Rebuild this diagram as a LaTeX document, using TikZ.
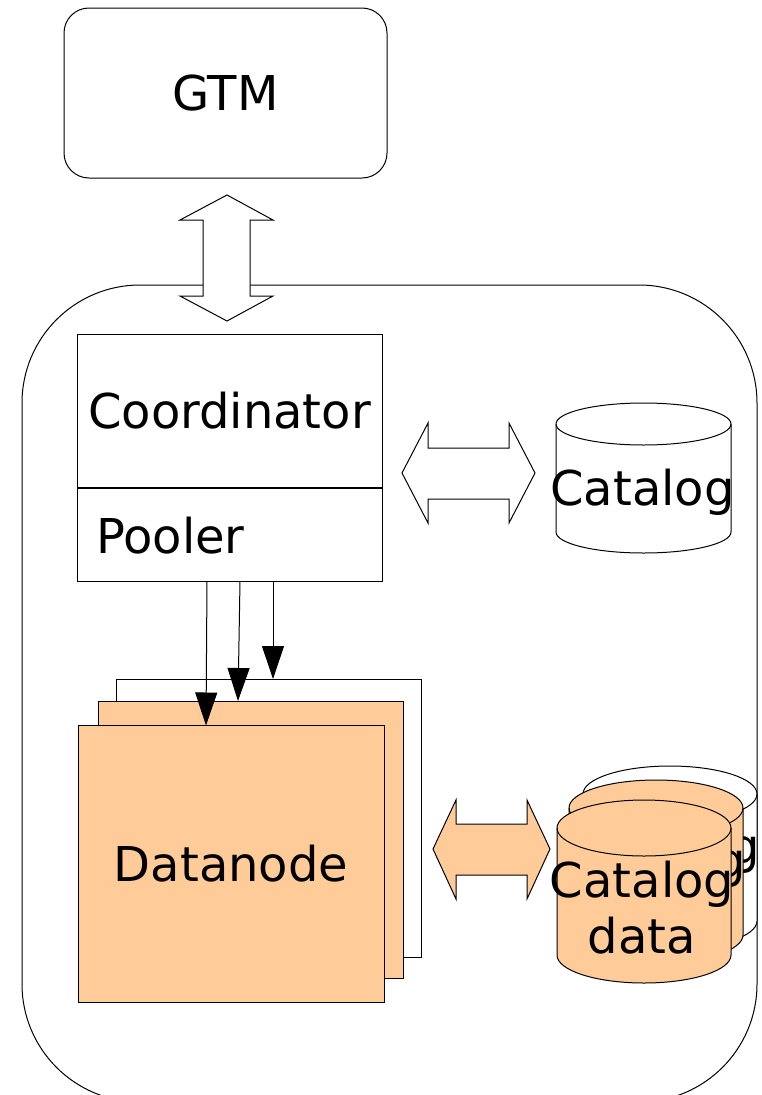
\documentclass[tikz,border=0pt]{standalone}
\usepackage{fontspec}
\setmainfont{DejaVu Sans}
\usetikzlibrary{arrows.meta,calc}
\definecolor{peach}{HTML}{FFCC99}
\tikzset{
  box/.style={draw=black, line width=1pt, inner sep=0pt, outer sep=0pt},
  lbl/.style={font=\fontsize{48}{56}\selectfont, inner sep=0pt, outer sep=0pt},
  blockarrow/.style={draw=black, line width=1pt, line join=miter},
  thinarrow/.style={draw=black, line width=1pt, -{Triangle[length=33pt,width=22pt]}},
  cylline/.style={draw=black, line width=1pt}
}
\newcommand{\mycyl}[6]{%
  \filldraw[cylline, fill=#6] (#1-#4,#2) -- (#1-#4,#3)
    arc[start angle=180, end angle=360, x radius=#4pt, y radius=#5pt]
    -- (#1+#4,#2)
    arc[start angle=0, end angle=180, x radius=#4pt, y radius=#5pt] -- cycle;
  \draw[cylline] (#1-#4,#2) arc[start angle=180, end angle=360, x radius=#4pt, y radius=#5pt];
}
\begin{document}
\begin{tikzpicture}[x=1pt,y=-1pt]
\useasboundingbox (0,0) rectangle (761,1095);
\clip (0,0) rectangle (761,1095);
\fill[white] (0,0) rectangle (761,1095);

% outer site box
\node[box, rounded corners=118pt, minimum width=735pt, minimum height=817pt] (site) at (389.5,693.5) {};

% GTM
\node[box, lbl, rounded corners=25pt, minimum width=323pt, minimum height=170pt] (gtm) at (225.5,93) {GTM};

% vertical double arrow GTM <-> site
\filldraw[blockarrow, fill=white] (227,195) -- (273,220) -- (250,220) -- (250,296) -- (273,296)
  -- (227,321) -- (180,296) -- (203,296) -- (203,220) -- (180,220) -- cycle;

% Coordinator / Pooler
\node[box, lbl, minimum width=305pt, minimum height=154pt] (coord) at (229.5,411) {Coordinator};
\node[box, minimum width=305pt, minimum height=94pt] (pool) at (229.5,534) {};
\node[lbl, anchor=base west] (pooltxt) at (96,553) {Pooler};

% horizontal double arrow Coordinator <-> Catalog
\filldraw[blockarrow, fill=white] (402,473) -- (428,423) -- (428,448) -- (509,448) -- (509,423)
  -- (535,473) -- (509,523) -- (509,499) -- (428,499) -- (428,523) -- cycle;

% Catalog cylinder
\mycyl{643.5}{424}{532}{87.5}{21}{white}
\node[lbl, anchor=base] (cat) at (642.5,505) {Catalog};

% Datanode stack
\node[box, fill=white, minimum width=305pt, minimum height=278pt] (dn3) at (268.5,818) {};
\node[box, fill=peach, minimum width=305pt, minimum height=277pt] (dn2) at (250.5,839.5) {};
\node[box, lbl, fill=peach, minimum width=306pt, minimum height=277pt] (dn1) at (231,864) {Datanode};

% arrows pooler -> datanodes
\draw[thinarrow] ([xshift=130pt]pool.south west) -- ([xshift=128pt]dn1.north west);
\draw[thinarrow] ([xshift=163pt]pool.south west) -- ([xshift=140pt]dn2.north west);
\draw[thinarrow] ([xshift=196pt]pool.south west) -- ([xshift=157pt]dn3.north west);

% lower double arrow Datanode <-> Catalog data
\filldraw[blockarrow, fill=peach] (433,849) -- (456,800) -- (456,824) -- (527,824) -- (527,800)
  -- (550,849) -- (527,899) -- (527,875) -- (456,875) -- (456,899) -- cycle;

% Catalog data cylinders
\mycyl{670}{794}{921}{87}{28}{white}
\node[lbl, anchor=north, align=center] (catdata3) at (668,827) {Catalog\\data};
\mycyl{656}{808}{935}{87}{28}{peach}
\node[lbl, anchor=north, align=center] (catdata2) at (654,841) {Catalog\\data};
\mycyl{644}{828}{955}{87}{28}{peach}
\node[lbl, anchor=north, align=center] (catdata) at (642,861) {Catalog\\data};
\end{tikzpicture}
\end{document}
